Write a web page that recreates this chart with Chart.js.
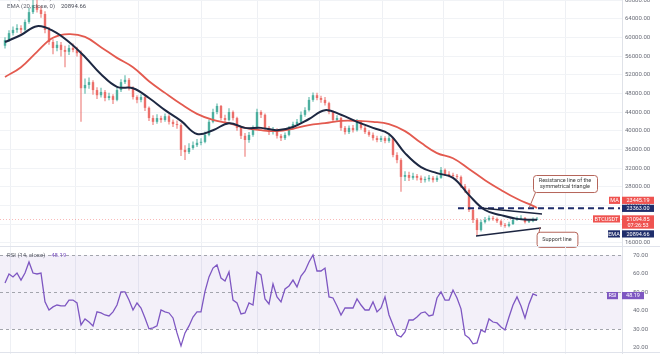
<!DOCTYPE html>
<html>
<head>
<meta charset="utf-8">
<title>BTCUSDT daily</title>
<script src="https://cdn.jsdelivr.net/npm/chart.js@4.4.1/dist/chart.umd.min.js"></script>
<style>
  html, body { margin: 0; padding: 0; background: #fff; }
  #wrap { position: relative; width: 660px; height: 354px; overflow: hidden; }
  #main, #rsi { position: absolute; left: 0; }
  #main { top: 0; }
  #rsi { top: 246px; }
</style>
</head>
<body>
<div id="wrap">
  <canvas id="main" width="660" height="250"></canvas>
  <canvas id="rsi" width="660" height="108"></canvas>
</div>
<script>
// candles (one candle here ~ two sessions)
const opens = [58200, 59400, 60900, 61600, 62000, 61600, 63300, 65400, 66900, 65900,
  65000, 61600, 59000, 57700, 58400, 57300, 56900, 57700, 57300, 56600,
  49100, 49800, 50400, 48700, 47600, 48300, 47000, 47400, 46600, 48700,
  50400, 50900, 49100, 47200, 46600, 47200, 44900, 42700, 41900, 42700,
  42300, 43100, 41900, 41400, 41200, 35900, 35400, 36300, 36900, 37400,
  37600, 39100, 41900, 44000, 45300, 42700, 42300, 44000, 42700, 40600,
  38900, 38000, 39100, 40600, 44000, 43400, 40600, 39700, 40100, 38900,
  38400, 39100, 40600, 41400, 41900, 43400, 44400, 46600, 47600, 47000,
  46600, 45900, 44000, 42300, 42700, 40600, 39700, 40600, 40100, 41900,
  40600, 39700, 39100, 38400, 38000, 38400, 37800, 38400, 34800, 33700,
  30100, 30500, 29900, 30300, 29900, 29400, 29600, 29900, 29400, 29900,
  31600, 30700, 30500, 30300, 30100, 28100, 27300, 23000, 20900, 18700,
  20400, 20900, 21300, 21100, 20600, 19800, 19600, 20000, 20900, 21100,
  21300, 20400, 20600, 20900];
const highs = [60000, 61500, 62300, 62800, 62600, 63800, 66300, 69000, 68200, 66700,
  65600, 62200, 59600, 59200, 59000, 58200, 58400, 58700, 58000, 57200,
  51200, 51400, 50800, 49300, 49200, 48700, 48100, 47800, 49200, 51000,
  51900, 51300, 49500, 47600, 47800, 47500, 45200, 43300, 43500, 43200,
  43700, 43500, 42400, 42200, 41600, 36900, 37300, 37700, 38200, 38400,
  39800, 42400, 44700, 45800, 45500, 43400, 44800, 44300, 43000, 41000,
  39500, 39700, 41100, 44700, 44400, 43700, 41000, 40800, 40500, 39300,
  39600, 41000, 41900, 42500, 44100, 45000, 47200, 48200, 48100, 47500,
  47200, 46200, 44300, 43300, 43000, 41000, 41100, 41200, 42500, 42200,
  41000, 40100, 39600, 38900, 38900, 38800, 39100, 38700, 35400, 34100,
  31300, 31200, 31000, 30700, 30400, 30200, 30500, 30300, 30400, 32200,
  31900, 31300, 31000, 30700, 30400, 28600, 27600, 23400, 21300, 20900,
  21500, 21800, 21700, 21400, 20900, 20200, 20500, 21300, 21600, 21900,
  21500, 21000, 21400, 21500];
const lows = [57600, 59000, 60400, 61000, 60800, 61200, 62900, 65000, 65300, 64200,
  60900, 58400, 56400, 57000, 55900, 53600, 56200, 56800, 55900, 41900,
  47900, 49000, 47700, 46800, 47100, 46300, 46500, 45700, 46300, 48300,
  50000, 48600, 46700, 45900, 46100, 44200, 42100, 41200, 41500, 41700,
  41900, 41300, 40800, 40400, 34600, 33700, 35000, 35900, 36500, 36900,
  37300, 38800, 41600, 43500, 42200, 41700, 42000, 42200, 40000, 38200,
  34400, 37400, 38700, 40200, 42700, 40100, 39100, 39200, 38300, 37800,
  38000, 38800, 40300, 41000, 41600, 43000, 44100, 46200, 46500, 46000,
  45400, 43500, 41900, 41900, 40000, 39200, 39300, 39600, 39800, 40200,
  39300, 38700, 37900, 37500, 37600, 37300, 37400, 34300, 33000, 26900,
  29200, 29200, 29500, 29300, 28800, 28900, 29100, 28900, 29000, 29700,
  30300, 30000, 29900, 29600, 27700, 26700, 22600, 20200, 17600, 18400,
  20100, 20600, 20700, 20200, 19400, 19200, 19300, 19800, 20700, 20900,
  20100, 20200, 20400, 20800];
const closes = [59400, 60900, 61600, 62000, 61600, 63300, 65400, 66900, 65900, 65000,
  61600, 59000, 57700, 58400, 57300, 56900, 57700, 57300, 56600, 49100,
  49800, 50400, 48700, 47600, 48300, 47000, 47400, 46600, 48700, 50400,
  50900, 49100, 47200, 46600, 47200, 44900, 42700, 41900, 42700, 42300,
  43100, 41900, 41400, 41200, 35900, 35400, 36300, 36900, 37400, 37600,
  39100, 41900, 44000, 45300, 42700, 42300, 44000, 42700, 40600, 38900,
  38000, 39100, 40600, 44000, 43400, 40600, 39700, 40100, 38900, 38400,
  39100, 40600, 41400, 41900, 43400, 44400, 46600, 47600, 47000, 46600,
  45900, 44000, 42300, 42700, 40600, 39700, 40600, 40100, 41900, 40600,
  39700, 39100, 38400, 38000, 38400, 37800, 38400, 34800, 33700, 30100,
  30500, 29900, 30300, 29900, 29400, 29600, 29900, 29400, 29900, 31600,
  30700, 30500, 30300, 30100, 28100, 27300, 23000, 20900, 18700, 20400,
  20900, 21300, 21100, 20600, 19800, 19600, 20000, 20900, 21100, 21300,
  20400, 20600, 20900, 21094.85];

// moving averages, read every 4th candle
const lineIdx = [0, 4, 8, 12, 16, 20, 24, 28, 32, 36, 40, 44, 48, 52, 56, 60, 64, 68,
  72, 76, 80, 84, 88, 92, 96, 100, 104, 108, 112, 116, 120, 124, 128, 132, 133];
const emaVals = [59000, 60500, 62400, 61400, 59000, 55800, 52100, 49400, 49100, 47000,
  44400, 42100, 39300, 40100, 41600, 40600, 40600, 40100, 40800, 42500,
  44400, 43400, 41900, 40600, 39300, 35200, 32200, 30900, 29900, 26200,
  23000, 21900, 21100, 20900, 20894.66];
const maVals = [51500, 53600, 56900, 59900, 60700, 60100, 57900, 55600, 53600, 50600,
  48100, 45700, 43600, 42300, 41600, 40600, 40100, 39900, 40400, 41200,
  41600, 42100, 42100, 41900, 41400, 39900, 37400, 35200, 34100, 31800,
  29400, 27300, 25400, 23900, 23445.19];

const rsiVals = [55.0, 59.9, 58.3, 60.4, 56.6, 60.4, 66.4, 60.4, 59.9, 60.4,
  44.8, 40.4, 42.1, 43.1, 42.6, 42.6, 45.8, 45.8, 44.2, 32.3,
  35.6, 33.9, 31.8, 39.4, 38.8, 37.7, 37.2, 39.4, 43.1, 50.2,
  50.2, 45.8, 40.4, 44.2, 41.5, 36.1, 30.2, 30.7, 31.8, 40.4,
  39.4, 38.8, 36.1, 28.0, 21.0, 28.0, 31.8, 36.6, 39.4, 39.4,
  50.5, 58.3, 63.1, 64.8, 57.7, 56.1, 61.0, 45.8, 44.2, 38.3,
  38.8, 44.2, 43.1, 61.0, 59.4, 46.4, 43.7, 54.5, 47.5, 44.8,
  51.8, 53.4, 56.6, 52.9, 58.8, 61.5, 66.4, 70.2, 61.5, 61.5,
  63.1, 47.5, 46.9, 42.6, 37.7, 41.5, 41.5, 41.5, 46.4, 43.1,
  40.4, 40.4, 44.8, 39.4, 41.5, 47.5, 37.7, 32.3, 26.9, 25.8,
  28.5, 35.0, 35.0, 36.6, 38.8, 39.4, 37.2, 37.7, 46.9, 50.2,
  45.8, 45.8, 51.2, 46.9, 41.0, 26.9, 25.3, 22.1, 22.6, 29.6,
  28.5, 35.6, 33.9, 33.4, 31.2, 29.6, 36.6, 43.1, 47.5, 42.6,
  36.1, 43.7, 49.1, 48.19];

const priceTicks = [16000, 20000, 24000, 28000, 32000, 36000, 40000, 44000,
  48000, 52000, 56000, 60000, 64000, 68000];
const rsiTicks = [20, 30, 40, 50, 60, 70];
const rsiLevels = [70, 50, 30];
// month boundaries, in candle units
const monthTicks = [1.25, 17.5, 33.25, 49.25, 63, 78.5, 94.25, 109.5, 124.5, 140];

// drawings on the chart (candle index, price)
const resistanceLevel = 23363;
const levelStart = 113.25;
const resistanceTrend = [[119, 23430], [134.25, 22140]];
const supportTrend = [[117.75, 17425], [134, 19140]];
const callouts = [
  { from: [132, 30500], to: [148, 26855], tip: [131.1, 23575],
    lines: ['Resistance line of the', 'symmetrical triangle'] },
  { from: [132.9, 18346], to: [143.1, 15100], tip: [133.75, 19290],
    lines: ['Support line'] }
];
const timerText = '07:26:53';

const FONT = 'Roboto, "Liberation Sans", Arial, sans-serif';
const upColor = '#4caf9f', downColor = '#ec6f6a';
const red = '#ef5350', navy = '#1f2d6b', maColor = '#e35a4f', emaColor = '#1d2842';
const purple = '#7e57c2';
const xMin = -1.25, xMax = 154.25;

const candleColors = closes.map((c, i) => c >= opens[i] ? upColor : downColor);

function noPad(s) {
  s.paddingTop = 0; s.paddingBottom = 0; s.paddingLeft = 0; s.paddingRight = 0;
}

function xScale() {
  return {
    type: 'linear', min: xMin, max: xMax, offset: false,
    grid: { color: '#eef0f4', drawTicks: false, offset: false },
    border: { display: false },
    ticks: { display: false },
    afterBuildTicks: s => { s.ticks = monthTicks.map(v => ({ value: v })); },
    afterFit: s => { s.height = 0; noPad(s); }
  };
}

function yScale(min, max, ticks, grid) {
  return {
    position: 'right', min: min, max: max,
    grid: grid,
    border: { display: true, color: '#dfe2e8' },
    ticks: { padding: 3, color: '#6a6d78', autoSkip: false, font: { size: 6, family: FONT },
      callback: v => v.toFixed(2) },
    afterBuildTicks: s => { s.ticks = ticks.map(v => ({ value: v })); },
    afterFit: s => { s.width = 38; noPad(s); }
  };
}

function tag(ctx, x, w, yc, color, text) {
  ctx.fillStyle = color;
  ctx.fillRect(x, yc - 3.6, w, 7.2);
  ctx.fillStyle = '#fff';
  ctx.fillText(text, x + w / 2, yc + 0.3);
}

const mainDecor = {
  id: 'mainDecor',
  beforeDatasetsDraw(chart) {
    const { ctx, chartArea: a, scales: { y } } = chart;
    const yy = Math.round(y.getPixelForValue(closes[closes.length - 1])) + 0.5;
    ctx.save();
    ctx.strokeStyle = 'rgba(239,83,80,0.4)';
    ctx.lineWidth = 1;
    ctx.setLineDash([1, 2]);
    ctx.beginPath(); ctx.moveTo(a.left, yy); ctx.lineTo(a.right, yy); ctx.stroke();
    ctx.restore();
  },
  afterDatasetsDraw(chart) {
    const { ctx, chartArea: a, scales: { x, y } } = chart;
    const P = p => [x.getPixelForValue(p[0]), y.getPixelForValue(p[1])];
    ctx.save();
    // horizontal resistance level
    const ly = y.getPixelForValue(resistanceLevel);
    ctx.strokeStyle = navy; ctx.lineWidth = 2; ctx.setLineDash([6, 4]);
    ctx.beginPath(); ctx.moveTo(x.getPixelForValue(levelStart), ly); ctx.lineTo(a.right - 2, ly); ctx.stroke();
    ctx.setLineDash([]);
    // triangle sides
    ctx.strokeStyle = '#1c2540'; ctx.lineWidth = 1.5;
    [resistanceTrend, supportTrend].forEach(seg => {
      const p0 = P(seg[0]), p1 = P(seg[1]);
      ctx.beginPath(); ctx.moveTo(p0[0], p0[1]); ctx.lineTo(p1[0], p1[1]); ctx.stroke();
    });
    // callouts
    ctx.font = '5.5px ' + FONT; ctx.textAlign = 'center'; ctx.textBaseline = 'middle';
    callouts.forEach(c => {
      const [x1, y1] = P(c.from), [x2, y2] = P(c.to), [tx, ty] = P(c.tip);
      ctx.strokeStyle = '#b5655a'; ctx.lineWidth = 1;
      ctx.fillStyle = '#fff';
      ctx.beginPath(); ctx.roundRect(x1 + 0.5, y1 + 0.5, x2 - x1, y2 - y1, 3); ctx.fill(); ctx.stroke();
      const ax = x1 + 2.5, ay = ty > y2 ? y2 : y1;
      ctx.beginPath(); ctx.moveTo(ax, ay + 0.5); ctx.lineTo(tx, ty); ctx.stroke();
      ctx.fillStyle = '#3a3a3a';
      const mid = (y1 + y2) / 2, lh = 6.5;
      c.lines.forEach((t, k) => {
        ctx.fillText(t, (x1 + x2) / 2, mid + (k - (c.lines.length - 1) / 2) * lh);
      });
    });
    ctx.restore();
  },
  afterDraw(chart) {
    const { ctx, scales: { y } } = chart;
    ctx.save();
    ctx.font = '6px ' + FONT; ctx.textBaseline = 'middle'; ctx.textAlign = 'left';
    const t1 = 'MA (50, close, 0)', t2 = 'EMA (20, close, 0)';
    ctx.fillStyle = '#5d606b';
    ctx.fillText(t1, 7, -1.5);
    ctx.fillText(t2, 7, 6.5);
    ctx.fillStyle = maColor;
    ctx.fillText(maVals[maVals.length - 1].toFixed(2), 13 + ctx.measureText(t1).width, -1.5);
    ctx.fillStyle = '#4a4d58';
    ctx.fillText(emaVals[emaVals.length - 1].toFixed(2), 13 + ctx.measureText(t2).width, 6.5);

    ctx.font = '5.5px ' + FONT; ctx.textAlign = 'center';
    const lvlY = y.getPixelForValue(resistanceLevel);
    const lastY = y.getPixelForValue(closes[closes.length - 1]);
    tag(ctx, 609, 11, lvlY - 8, red, 'MA');
    tag(ctx, 622, 32, lvlY - 8, red, maVals[maVals.length - 1].toFixed(2));
    tag(ctx, 622, 32, lvlY, navy, resistanceLevel.toFixed(2));
    tag(ctx, 593, 27, lastY, red, 'BTCUSDT');
    ctx.fillStyle = red; ctx.fillRect(622, lastY - 3.6, 32, 13.4);
    ctx.fillStyle = '#fff';
    ctx.fillText(closes[closes.length - 1].toFixed(2), 638, lastY + 0.3);
    ctx.fillText(timerText, 638, lastY + 6.7);
    tag(ctx, 608, 12, lastY + 15, navy, 'EMA');
    tag(ctx, 622, 32, lastY + 15, navy, emaVals[emaVals.length - 1].toFixed(2));
    ctx.restore();
  }
};

new Chart(document.getElementById('main'), {
  type: 'bar',
  data: {
    datasets: [
      { type: 'line', label: 'EMA 20', data: lineIdx.map((i, k) => ({ x: i, y: emaVals[k] })),
        borderColor: emaColor, borderWidth: 2, pointRadius: 0, tension: 0.4, order: 0 },
      { type: 'line', label: 'MA 50', data: lineIdx.map((i, k) => ({ x: i, y: maVals[k] })),
        borderColor: maColor, borderWidth: 1.8, pointRadius: 0, tension: 0.4, order: 1 },
      { label: 'body', data: closes.map((c, i) => ({ x: i, y: [opens[i], c] })),
        backgroundColor: candleColors, grouped: false, categoryPercentage: 1, barPercentage: 0.6,
        minBarLength: 1, borderWidth: 0, order: 2 },
      { label: 'wick', data: closes.map((c, i) => ({ x: i, y: [lows[i], highs[i]] })),
        backgroundColor: candleColors, grouped: false, categoryPercentage: 1, barPercentage: 0.25,
        borderWidth: 0, order: 3 }
    ]
  },
  options: {
    responsive: false,
    animation: false,
    layout: { padding: { left: 0, right: 0, top: 0, bottom: 4 }, autoPadding: false },
    plugins: { legend: { display: false }, tooltip: { enabled: false } },
    scales: {
      x: xScale(),
      y: yScale(15290, 68000, priceTicks, { color: '#f1f3f6', drawTicks: false })
    }
  },
  plugins: [mainDecor]
});

const rsiDecor = {
  id: 'rsiDecor',
  beforeDatasetsDraw(chart) {
    const { ctx, chartArea: a, scales: { y } } = chart;
    ctx.save();
    const yTop = y.getPixelForValue(rsiLevels[0]), yBot = y.getPixelForValue(rsiLevels[2]);
    ctx.fillStyle = 'rgba(126,87,194,0.09)';
    ctx.fillRect(a.left, yTop, a.right - a.left, yBot - yTop);
    ctx.strokeStyle = '#a3a5ad'; ctx.lineWidth = 1; ctx.setLineDash([3, 3]);
    rsiLevels.forEach(v => {
      const yy = Math.round(y.getPixelForValue(v)) + 0.5;
      ctx.beginPath(); ctx.moveTo(a.left, yy); ctx.lineTo(a.right, yy); ctx.stroke();
    });
    ctx.restore();
  },
  afterDraw(chart) {
    const { ctx, scales: { y } } = chart;
    ctx.save();
    ctx.strokeStyle = '#e0e3eb'; ctx.lineWidth = 1;
    ctx.beginPath(); ctx.moveTo(0, 0.5); ctx.lineTo(660, 0.5); ctx.stroke();
    ctx.beginPath(); ctx.moveTo(0, 106.5); ctx.lineTo(660, 106.5); ctx.stroke();
    ctx.font = '6px ' + FONT; ctx.textBaseline = 'middle'; ctx.textAlign = 'left';
    ctx.fillStyle = '#5d606b';
    const t = 'RSI (14, close)';
    ctx.fillText(t, 7, 9.5);
    ctx.fillStyle = purple;
    ctx.fillText(rsiVals[rsiVals.length - 1].toFixed(2), 13 + ctx.measureText(t).width, 9.5);
    ctx.font = '5.5px ' + FONT; ctx.textAlign = 'center';
    const ly = y.getPixelForValue(rsiVals[rsiVals.length - 1]);
    tag(ctx, 607, 11, ly, purple, 'RSI');
    tag(ctx, 622, 22, ly, purple, rsiVals[rsiVals.length - 1].toFixed(2));
    ctx.restore();
  }
};

new Chart(document.getElementById('rsi'), {
  type: 'line',
  data: {
    datasets: [{ label: 'RSI 14', data: rsiVals.map((v, i) => ({ x: i, y: v })),
      borderColor: purple, borderWidth: 1.3, pointRadius: 0, tension: 0 }]
  },
  options: {
    responsive: false,
    animation: false,
    layout: { padding: 0, autoPadding: false },
    plugins: { legend: { display: false }, tooltip: { enabled: false } },
    scales: {
      x: xScale(),
      y: yScale(16.6, 75.03, rsiTicks, { display: false })
    }
  },
  plugins: [rsiDecor]
});
</script>
</body>
</html>
